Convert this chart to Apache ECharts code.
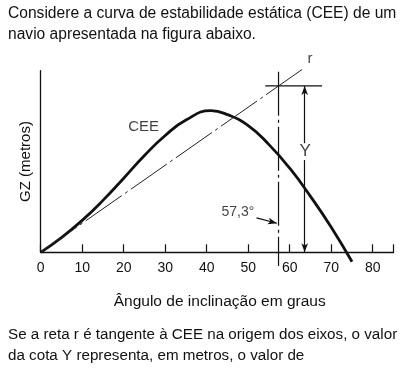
<!DOCTYPE html>
<html>
<head>
<meta charset="utf-8">
<script src="https://cdn.jsdelivr.net/npm/echarts@6/dist/echarts.min.js"></script>
<style>
html,body{margin:0;padding:0;background:#fff;}
#c{width:402px;height:374px;}
</style>
</head>
<body>
<div id="c"></div>
<script>
// Data (x: angle in degrees, y: GZ in arbitrary units, axis top = 100)
const xTicks = [0, 10, 20, 30, 40, 50, 60, 70, 80];
const ceeAngles = [0, 5, 10, 15, 20, 25, 30, 35, 41, 45, 50, 55, 60, 65, 70, 75];
const ceeGZ     = [0, 8.1, 17.6, 28.6, 40.8, 53.3, 64.3, 72.8, 78.0, 75.8, 69.8, 59.3, 46.3, 30.8, 13.8, -5.2];
const tangentR = [[0,0],[63,100.7]];
const line573 = [[57.3,99.4],[57.3,-7.5]];
const topCota = [[54.1,91.6],[67.8,91.6]];
const cotaUpper = [[63.6,60.1],[63.6,91.6]];
const cotaLower = [[63.6,50.8],[63.6,0]];
const arrow573 = [[52.0,19.0],[56.9,16.0]];
const labelNames = ['CEE', 'r', 'Y', '57,3°'];
const labelPos = [[24.8,69.0],[64.9,106.5],[63.7,55.4],[47.5,22.2]];
const labelSizes = [15, 15, 17, 14];
const textTop = ['Considere a curva de estabilidade estática (CEE) de um', 'navio apresentada na figura abaixo.'];
const textBottom = ['Se a reta r é tangente à CEE na origem dos eixos, o valor', 'da cota Y representa, em metros, o valor de'];
const xName = 'Ângulo de inclinação em graus';
const yName = 'GZ (metros)';

const FONT = 'Liberation Sans, Arial, sans-serif';
const chart = echarts.init(document.getElementById('c'), null, {renderer:'canvas'});

function arrowLine(pts, symbols){
  return {
    type:'line', data:[], silent:true,
    markLine:{
      silent:true, animation:false,
      symbol:symbols, symbolSize:[5,9],
      lineStyle:{color:'#111', width:1.2, type:'solid'},
      label:{show:false},
      data:[[{coord:pts[0]},{coord:pts[1]}]]
    }
  };
}

const option = {
  animation:false,
  grid:{left:40.7, right:8.5, top:70.7, bottom:121.7, containLabel:false},
  xAxis:{
    type:'value', min:0, max:85, interval:10,
    axisLine:{lineStyle:{color:'#111', width:1.3}},
    axisTick:{inside:true, length:8, lineStyle:{color:'#111', width:1.2}},
    axisLabel:{color:'#111', fontSize:14, fontFamily:FONT, margin:9,
      formatter:function(v){return xTicks.indexOf(v)>=0 ? String(v) : '';}},
    splitLine:{show:false}
  },
  yAxis:{
    type:'value', min:0, max:100,
    name:yName, nameLocation:'middle', nameRotate:90, nameGap:7,
    nameTextStyle:{color:'#111', fontSize:15, fontFamily:FONT},
    axisLine:{show:true, lineStyle:{color:'#111', width:1.3}},
    axisTick:{show:false}, axisLabel:{show:false}, splitLine:{show:false}
  },
  graphic:[
    {type:'text', left:8, top:3, style:{text:textTop.join('\n'), font:'15.6px '+FONT, fill:'#111', lineHeight:21}},
    {type:'text', left:8, top:324, style:{text:textBottom.join('\n'), font:'15.2px '+FONT, fill:'#111', lineHeight:21}},
    {type:'text', x:219.7, y:302, style:{text:xName, font:'15.5px '+FONT, fill:'#111', textAlign:'center', textVerticalAlign:'middle'}}
  ],
  series:[
    {type:'line', data:ceeAngles.map(function(a,i){return [a, ceeGZ[i]];}), smooth:0.5, showSymbol:false, clip:false,
      lineStyle:{color:'#111', width:2.8}},
    {type:'line', data:tangentR, showSymbol:false, clip:false,
      lineStyle:{color:'#222', width:1, type:[44,4,3,4]}},
    {type:'line', data:line573, showSymbol:false, clip:false,
      lineStyle:{color:'#111', width:1.2, type:[44,4,3,4]}},
    {type:'line', data:topCota, showSymbol:false, clip:false,
      lineStyle:{color:'#111', width:1.2}},
    arrowLine(cotaUpper, ['none','arrow']),
    arrowLine(cotaLower, ['none','arrow']),
    arrowLine(arrow573, ['none','arrow']),
    {type:'scatter', symbolSize:1, clip:false,
      itemStyle:{color:'rgba(0,0,0,0)'},
      data:labelNames.map(function(n,i){return {name:n, value:labelPos[i], label:{fontSize:labelSizes[i]}};}),
      label:{show:true, position:'inside', color:'#111', fontFamily:FONT,
        formatter:function(p){return p.name;}},
      labelLayout:{hideOverlap:false}
    }
  ]
};
chart.setOption(option);
</script>
</body>
</html>
